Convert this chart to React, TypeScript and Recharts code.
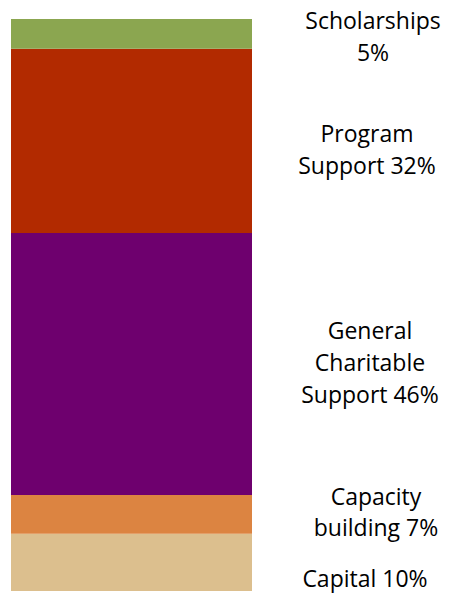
import { BarChart, Bar, XAxis, YAxis, LabelList } from "recharts";

// bottom to top, as stacked in the bar
const categories = ["Capital", "Capacity building", "General Charitable Support", "Program Support", "Scholarships"];
const shares = [10, 6.8, 45.8, 32.2, 5.2];
const labelLines = [
  ["Capital 10%"],
  ["Capacity", "building 7%"],
  ["General", "Charitable", "Support 46%"],
  ["Program", "Support 32%"],
  ["Scholarships", "5%"],
];
const colors = ["#DCBF8E", "#DC8441", "#6E006E", "#B22A00", "#8BA650"];

// label nudges relative to segment centre / label column
const labelDy = [16, -2, -1, 9, 3];
const labelDx = [-7, 4, -2, -5, 1];

const FONT = "'Open Sans', sans-serif";
const FONT_SIZE = 23;
const LINE_H = 31.7;
const COLUMN_OFFSET = 120;

const row: Record<string, string | number> = { name: "total" };
categories.forEach((c, i) => {
  row["s" + i] = shares[i];
});
const data = [row];

function makeLabel(i: number) {
  return (props: any) => {
    const x = Number(props.x);
    const y = Number(props.y);
    const w = Number(props.width);
    const h = Number(props.height);
    const top = Math.min(y, y + h);
    const cy = top + Math.abs(h) / 2 + labelDy[i];
    const cx = x + w + COLUMN_OFFSET + labelDx[i];
    const lines = labelLines[i];
    const first = cy - ((lines.length - 1) * LINE_H) / 2 + FONT_SIZE * 0.357;
    return (
      <text x={cx} y={first} textAnchor="middle" fill="#000" fontFamily={FONT} fontSize={FONT_SIZE}>
        {lines.map((l, k) => (
          <tspan key={k} x={cx} y={first + k * LINE_H}>
            {l}
          </tspan>
        ))}
      </text>
    );
  };
}

export default function App() {
  return (
    <div style={{ margin: "-8px 0 0 -8px" }}>
      <BarChart
        width={451}
        height={595}
        data={data}
        margin={{ top: 19, right: 199, bottom: 4, left: 11 }}
        barCategoryGap={0}
        barGap={0}
      >
        <XAxis dataKey="name" hide />
        <YAxis hide domain={[0, 100]} />
        {categories.map((c, i) => (
          <Bar key={c} name={c} dataKey={"s" + i} stackId="a" fill={colors[i]} isAnimationActive={false}>
            <LabelList dataKey={"s" + i} content={makeLabel(i)} />
          </Bar>
        ))}
      </BarChart>
    </div>
  );
}
